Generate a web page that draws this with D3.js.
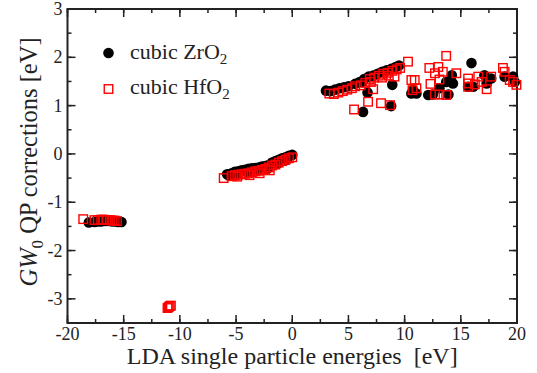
<!DOCTYPE html>
<html>
<head>
<meta charset="utf-8">
<script src="https://cdn.jsdelivr.net/npm/d3@7"></script>
<style>
  body { margin: 0; background: #fff; }
  text { font-family: "Liberation Serif", "DejaVu Serif", serif; fill: #222; white-space: pre; }
</style>
</head>
<body>
<svg id="chart" width="537" height="373"></svg>
<script>
// tick values
const xTicks = [-20, -15, -10, -5, 0, 5, 10, 15, 20];
const yTicks = [-3, -2, -1, 0, 1, 2, 3];

// cubic ZrO2 (LDA energy, GW0 correction)
const zrX = [-18.1, -17.6, -17.3, -17.0, -16.6, -16.3, -16.0, -15.7, -15.5, -15.2,
  -5.8, -5.6, -5.4, -5.1, -4.9, -4.8, -4.5, -4.2, -4.0, -3.9, -3.6, -3.3, -3.1, -3.0, -2.7, -2.4, -2.2, -2.1, -1.8, -1.5, -1.3, -1.2, -0.9, -0.6, -0.5, -0.3, 0.0,
  3.0, 3.4, 3.8, 4.2, 4.6, 5.0, 5.6, 6.0, 6.2, 6.4, 6.7, 6.8, 7.2, 7.6, 8.0, 8.4, 8.8, 8.9, 9.2, 9.5, 6.3, 8.8, 10.6, 10.75,
  11.05, 12.1, 12.5, 13.1, 13.7, 13.9, 14.2, 14.3, 15.65, 15.95, 16.1, 17.1, 17.3, 17.7, 18.9, 19.65, 19.8];
const zrY = [-1.42, -1.41, -1.40, -1.40, -1.39, -1.39, -1.40, -1.40, -1.41, -1.41,
  -0.42, -0.45, -0.40, -0.37, -0.41, -0.36, -0.34, -0.33, -0.38, -0.31, -0.30, -0.29, -0.35, -0.28, -0.26, -0.25, -0.30, -0.23, -0.18, -0.15, -0.20, -0.12, -0.09, -0.07, -0.12, -0.04, -0.02,
  1.31, 1.30, 1.33, 1.36, 1.38, 1.40, 1.45, 1.49, 1.49, 1.55, 1.27, 1.60, 1.62, 1.66, 1.70, 1.73, 1.76, 1.43, 1.80, 1.83, 0.87, 0.99, 1.25, 1.32,
  1.25, 1.22, 1.23, 1.36, 1.49, 1.23, 1.63, 1.46, 1.39, 1.88, 1.39, 1.63, 1.46, 1.56, 1.60, 1.60, 1.49];

// cubic HfO2
const hfX = [-18.6, -17.6, -17.3, -17.0, -16.8, -16.5, -16.2, -16.0, -15.8, -15.6,
  -11.1, -11.0, -10.9, -10.8,
  -6.1, -5.4, -5.1, -4.9, -4.8, -4.5, -4.2, -3.9, -3.8, -3.6, -3.3, -3.0, -2.9, -2.7, -2.4, -2.1, -2.0, -1.8, -1.5, -1.2, -0.9, -0.6, -0.3, 0.0,
  3.3, 3.7, 4.1, 4.5, 4.9, 5.3, 5.6, 6.1, 6.5, 6.9, 7.0, 7.3, 7.7, 8.0, 8.1, 8.5, 8.6, 8.9, 9.1, 9.3, 9.6,
  5.5, 6.75, 7.2, 7.9, 8.7, 10.3, 10.6, 10.7, 10.9, 11.05,
  12.2, 12.3, 12.7, 12.7, 13.0, 13.1, 13.1, 13.4, 13.7, 13.7, 14.6, 15.65, 15.65, 15.65, 16.25, 16.55, 16.85, 17.3, 17.7, 18.75, 18.9, 19.35, 19.65, 19.95];
const hfY = [-1.35, -1.37, -1.37, -1.36, -1.36, -1.37, -1.37, -1.38, -1.38, -1.39,
  -3.19, -3.17, -3.15, -3.14,
  -0.50, -0.46, -0.44, -0.47, -0.43, -0.42, -0.41, -0.40, -0.44, -0.38, -0.36, -0.35, -0.40, -0.33, -0.31, -0.28, -0.34, -0.24, -0.22, -0.18, -0.15, -0.12, -0.09, -0.07,
  1.25, 1.24, 1.27, 1.30, 1.33, 1.36, 1.40, 1.42, 1.47, 1.55, 1.49, 1.58, 1.62, 1.58, 1.66, 1.68, 1.62, 1.72, 1.60, 1.75, 1.78,
  0.92, 1.08, 1.34, 1.05, 1.01, 1.91, 1.53, 1.32, 1.53, 1.36,
  1.78, 1.45, 1.67, 1.23, 1.80, 1.54, 1.23, 1.70, 2.03, 1.22, 1.67, 1.56, 1.46, 1.39, 1.44, 1.60, 1.49, 1.34, 1.60, 1.78, 1.70, 1.53, 1.49, 1.43];

const zrData = zrX.map((x, i) => ({ x: x, y: zrY[i] }));
const hfData = hfX.map((x, i) => ({ x: x, y: hfY[i] }));

const width = 537, height = 373;
const margin = { top: 9, right: 20, bottom: 50, left: 67.5 };

const svg = d3.select("#chart");

const x = d3.scaleLinear().domain([-20, 20]).range([margin.left, width - margin.right]);
const y = d3.scaleLinear().domain([-3.5, 3]).range([height - margin.bottom, margin.top]);

const xMinor = d3.range(-20, 20.01, 2.5);
const yMinor = d3.range(-3.5, 3.01, 0.5);

// ticks on all four sides, pointing inward
const g = svg.append("g");
function xTickLines(vals, len) {
  vals.forEach(v => {
    g.append("line").attr("x1", x(v)).attr("x2", x(v))
      .attr("y1", y(-3.5)).attr("y2", y(-3.5) - len);
    g.append("line").attr("x1", x(v)).attr("x2", x(v))
      .attr("y1", y(3)).attr("y2", y(3) + len);
  });
}
xTickLines(xMinor, 4);
xTickLines(xTicks, 8);
function yTickLines(vals, len) {
  vals.forEach(v => {
    g.append("line").attr("y1", y(v)).attr("y2", y(v))
      .attr("x1", x(-20)).attr("x2", x(-20) + len);
    g.append("line").attr("y1", y(v)).attr("y2", y(v))
      .attr("x1", x(20)).attr("x2", x(20) - len);
  });
}
yTickLines(yMinor, 4);
yTickLines(yTicks, 8);
g.selectAll("line").attr("stroke", "#222").attr("stroke-width", 1.5);

// frame
svg.append("rect")
  .attr("x", x(-20)).attr("y", y(3))
  .attr("width", x(20) - x(-20)).attr("height", y(-3.5) - y(3))
  .attr("fill", "none").attr("stroke", "#222").attr("stroke-width", 2);

// tick labels
svg.selectAll(".xl").data(xTicks).enter().append("text")
  .attr("x", d => x(d)).attr("y", y(-3.5) + 17)
  .attr("text-anchor", "middle").attr("font-size", 18)
  .text(d => d);
svg.selectAll(".yl").data(yTicks).enter().append("text")
  .attr("x", x(-20) - 5).attr("y", d => y(d) + 6)
  .attr("text-anchor", "end").attr("font-size", 18)
  .text(d => d);

// axis titles
svg.append("text")
  .attr("x", (x(-20) + x(20)) / 2).attr("y", 364)
  .attr("text-anchor", "middle").attr("font-size", 24)
  .text("LDA single particle energies  [eV]");

const yt = svg.append("text")
  .attr("transform", "translate(37," + 162 + ") rotate(-90)")
  .attr("text-anchor", "middle").attr("font-size", 24.5);
yt.append("tspan").attr("font-style", "italic").text("GW");
yt.append("tspan").attr("font-size", 17).attr("dy", 6).text("0");
yt.append("tspan").attr("dy", -6).text(" QP corrections [eV]");

// data marks
svg.append("g").selectAll("circle").data(zrData).enter().append("circle")
  .attr("cx", d => x(d.x)).attr("cy", d => y(d.y)).attr("r", 5.3)
  .attr("fill", "#000");

const s = 8.5;
svg.append("g").selectAll("rect").data(hfData).enter().append("rect")
  .attr("x", d => x(d.x) - s / 2).attr("y", d => y(d.y) - s / 2)
  .attr("width", s).attr("height", s)
  .attr("fill", "none").attr("stroke", "#f00").attr("stroke-width", 1.4);

// legend
const leg = svg.append("g");
leg.append("circle").attr("cx", 108.5).attr("cy", 53).attr("r", 5.3).attr("fill", "#000");
const t1 = leg.append("text").attr("x", 130).attr("y", 59).attr("font-size", 22);
t1.append("tspan").text("cubic ZrO");
t1.append("tspan").attr("font-size", 15).attr("dy", 5).text("2");
leg.append("rect").attr("x", 108.5 - s / 2).attr("y", 89 - s / 2).attr("width", s).attr("height", s)
  .attr("fill", "none").attr("stroke", "#f00").attr("stroke-width", 1.4);
const t2 = leg.append("text").attr("x", 130).attr("y", 94).attr("font-size", 22);
t2.append("tspan").text("cubic HfO");
t2.append("tspan").attr("font-size", 15).attr("dy", 5).text("2");
</script>
</body>
</html>
